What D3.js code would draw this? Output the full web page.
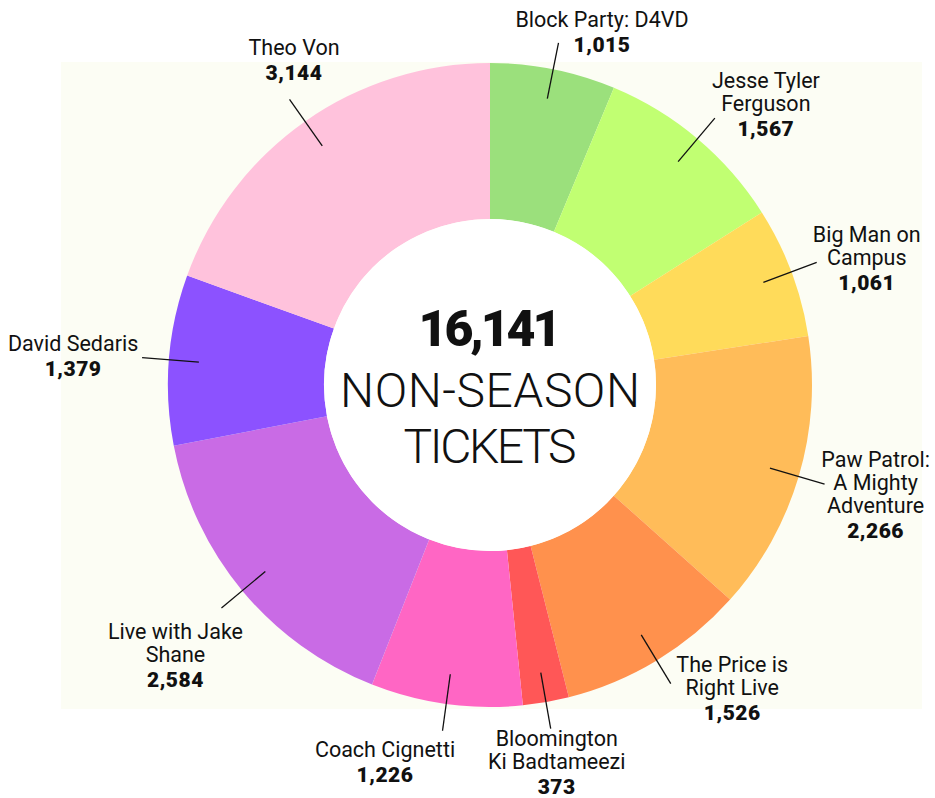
<!DOCTYPE html>
<html>
<head>
<meta charset="utf-8">
<script src="https://cdn.jsdelivr.net/npm/d3@7"></script>
<style>
  body { margin: 0; background: #fff; }
  text { font-family: Roboto, "Noto Sans", sans-serif; fill: #111; }
  .name { font-size: 21.5px; font-weight: 400; }
  .num { font-size: 21px; font-weight: 900; letter-spacing: 0.5px; }
</style>
</head>
<body>
<svg id="chart"></svg>
<script>
const width = 935;
const height = 798;

// data, clockwise from 12 o'clock
const shows = [
  "Block Party: D4VD", "Jesse Tyler Ferguson", "Big Man on Campus",
  "Paw Patrol: A Mighty Adventure", "The Price is Right Live",
  "Bloomington Ki Badtameezi", "Coach Cignetti", "Live with Jake Shane",
  "David Sedaris", "Theo Von"
];
const tickets = [1015, 1567, 1061, 2266, 1526, 373, 1226, 2584, 1379, 3144];
const labelLines = [
  ["Block Party: D4VD"], ["Jesse Tyler", "Ferguson"], ["Big Man on", "Campus"],
  ["Paw Patrol:", "A Mighty", "Adventure"], ["The Price is", "Right Live"],
  ["Bloomington", "Ki Badtameezi"], ["Coach Cignetti"], ["Live with Jake", "Shane"],
  ["David Sedaris"], ["Theo Von"]
];
const colors = [
  "#9be07c", "#c1ff72", "#ffdb5a", "#ffbc59", "#ff914d",
  "#ff5757", "#ff66c4", "#c96be5", "#8c52ff", "#ffc2dc"
];
const centerTitle = ["NON-SEASON", "TICKETS"];

// layout
const cx = 490, cy = 385;
const outerR = 322, innerR = 166;
const leadIn = 292, leadOut = 349;
const lineGap = 23;
const numGap = 25;
// hand-placed label blocks: [dx, dy] from the leader end to the first baseline
const labelNudge = [
  [43.5, -16], [51, -30], [50, -20], [51, -17.5], [61.5, -11.7],
  [6, 17.5], [-57.5, 26], [-46, 31], [-69, -7], [4.5, -44]
];

const fmt = d3.format(",");
const total = d3.sum(tickets);

const svg = d3.select("#chart")
  .attr("width", width)
  .attr("height", height)
  .attr("viewBox", `0 0 ${width} ${height}`);

// cream panel behind the donut
svg.append("rect")
  .attr("x", 61).attr("y", 62)
  .attr("width", 861).attr("height", 647)
  .attr("fill", "#fcfdf4");

const pie = d3.pie().sort(null).value((d) => d);
const arcs = pie(tickets);
const arc = d3.arc().innerRadius(innerR).outerRadius(outerR);

const g = svg.append("g").attr("transform", `translate(${cx},${cy})`);

g.append("g")
  .selectAll("path")
  .data(arcs)
  .join("path")
  .attr("d", arc)
  .attr("fill", (d, i) => colors[i]);

// white hole
g.append("circle").attr("r", innerR).attr("fill", "#fff");

// leader lines
const mid = (d) => (d.startAngle + d.endAngle) / 2;
const polar = (a, r) => [Math.sin(a) * r, -Math.cos(a) * r];

g.append("g")
  .selectAll("line")
  .data(arcs)
  .join("line")
  .attr("x1", (d) => polar(mid(d), leadIn)[0])
  .attr("y1", (d) => polar(mid(d), leadIn)[1])
  .attr("x2", (d) => polar(mid(d), leadOut)[0])
  .attr("y2", (d) => polar(mid(d), leadOut)[1])
  .attr("stroke", "#111")
  .attr("stroke-width", 1.3);

// labels
const labels = g.append("g")
  .selectAll("text")
  .data(arcs)
  .join("text")
  .attr("text-anchor", "middle")
  .attr("transform", (d, i) => {
    const [x, y] = polar(mid(d), leadOut);
    return `translate(${x + labelNudge[i][0]},${y + labelNudge[i][1]})`;
  });

labels.each(function (d, i) {
  const t = d3.select(this);
  const n = labelLines[i].length;
  labelLines[i].forEach((line, j) => {
    t.append("tspan").attr("class", "name")
      .attr("x", 0).attr("y", j * lineGap).text(line);
  });
  t.append("tspan").attr("class", "num")
    .attr("x", 0).attr("y", (n - 1) * lineGap + numGap)
    .text(fmt(d.data));
});

// center total
g.append("text")
  .attr("text-anchor", "middle")
  .attr("y", -39)
  .attr("textLength", 143)
  .style("font-size", "50px")
  .style("font-weight", 900)
  .text(fmt(total));

g.append("g")
  .selectAll("text")
  .data(centerTitle)
  .join("text")
  .attr("text-anchor", "middle")
  .attr("y", (d, i) => 22 + i * 56)
  .attr("textLength", (d, i) => [300, 173][i])
  .style("font-size", "48px")
  .style("font-weight", 300)
  .text((d) => d);
</script>
</body>
</html>
